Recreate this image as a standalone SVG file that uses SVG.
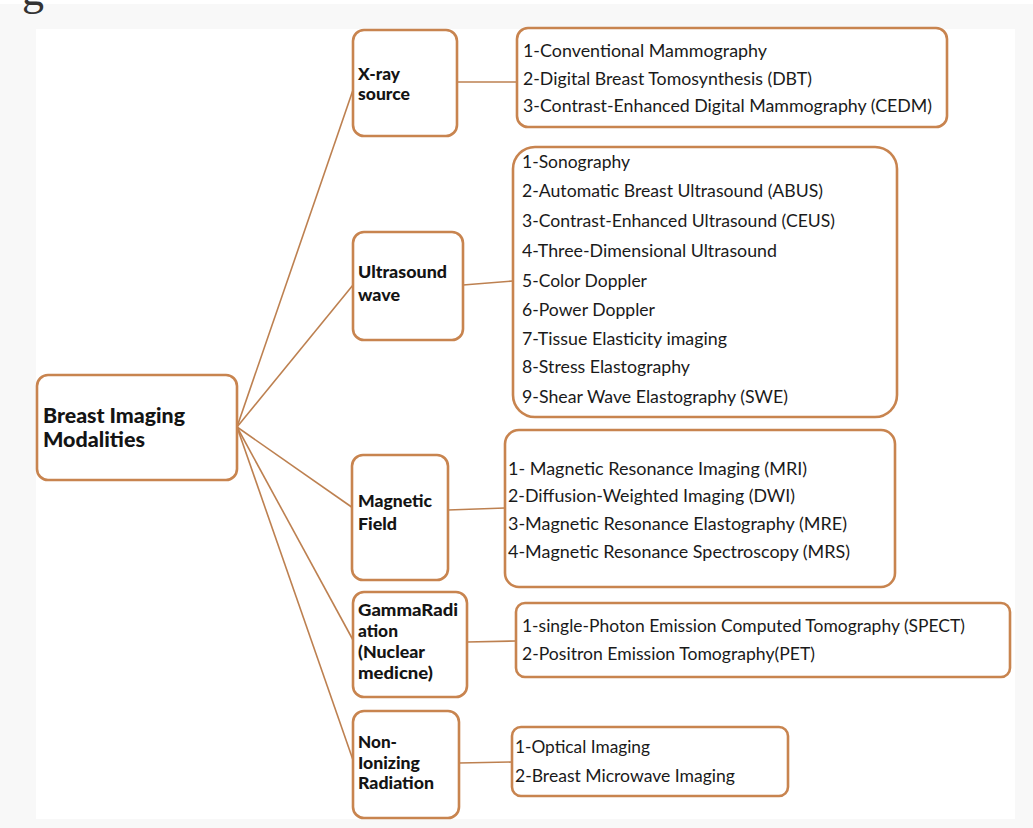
<svg xmlns="http://www.w3.org/2000/svg" width="1033" height="828" viewBox="0 0 1033 828">
<style>
  .box { fill: #ffffff; stroke: #c8844f; stroke-width: 2.6; }
  .conn { stroke: #bd8050; stroke-width: 1.6; fill: none; }
  .t { font-family: Lato, "Liberation Sans", sans-serif; font-size: 16.5px; fill: #1a1a1a; }
  .c { font-family: Lato, "Liberation Sans", sans-serif; font-size: 16px; font-weight: 900; fill: #141414; }
  .r { font-family: Lato, "Liberation Sans", sans-serif; font-size: 20px; font-weight: 900; fill: #141414; }
</style>
<rect x="0" y="0" width="1033" height="828" fill="#ffffff"/>
<rect x="0" y="4" width="1033" height="824" fill="#f8f8f8"/>
<rect x="36" y="29" width="979" height="790" fill="#ffffff"/>
<text x="22" y="5" font-family="'Liberation Serif', serif" font-size="44" fill="#333333">g</text>

<g id="connectors">
  <line class="conn" x1="237" y1="427" x2="353" y2="90"/>
  <line class="conn" x1="237" y1="427" x2="353" y2="285"/>
  <line class="conn" x1="237" y1="427" x2="353" y2="508"/>
  <line class="conn" x1="237" y1="427" x2="353" y2="640"/>
  <line class="conn" x1="237" y1="427" x2="353" y2="760"/>
  <line class="conn" x1="457" y1="82" x2="517" y2="82"/>
  <line class="conn" x1="463" y1="285" x2="513" y2="281"/>
  <line class="conn" x1="448" y1="510" x2="505" y2="508"/>
  <line class="conn" x1="467" y1="642" x2="516" y2="641"/>
  <line class="conn" x1="459" y1="763" x2="512" y2="762"/>
</g>

<g id="root">
  <rect class="box" x="37" y="375" width="200" height="105" rx="11"/>
  <text class="r" x="43" y="423" textLength="142" lengthAdjust="spacingAndGlyphs">Breast Imaging</text>
  <text class="r" x="43" y="447" textLength="102" lengthAdjust="spacingAndGlyphs">Modalities</text>
</g>

<g id="xray">
  <rect class="box" x="353" y="30" width="104" height="106" rx="11"/>
  <text class="c" x="358" y="80" textLength="42" lengthAdjust="spacingAndGlyphs">X-ray</text>
  <text class="c" x="358" y="100" textLength="52" lengthAdjust="spacingAndGlyphs">source</text>
</g>

<g id="ultrasound">
  <rect class="box" x="353" y="232" width="110" height="108" rx="11"/>
  <text class="c" x="358" y="278" textLength="89" lengthAdjust="spacingAndGlyphs">Ultrasound</text>
  <text class="c" x="358" y="301" textLength="42" lengthAdjust="spacingAndGlyphs">wave</text>
</g>

<g id="magnetic">
  <rect class="box" x="352" y="455" width="96" height="125" rx="11"/>
  <text class="c" x="358" y="507" textLength="74" lengthAdjust="spacingAndGlyphs">Magnetic</text>
  <text class="c" x="358" y="530" textLength="39" lengthAdjust="spacingAndGlyphs">Field</text>
</g>

<g id="gamma">
  <rect class="box" x="353" y="592" width="114" height="105" rx="11"/>
  <text class="c" x="358" y="616" textLength="100" lengthAdjust="spacingAndGlyphs">GammaRadi</text>
  <text class="c" x="358" y="637" textLength="40" lengthAdjust="spacingAndGlyphs">ation</text>
  <text class="c" x="358" y="658" textLength="67" lengthAdjust="spacingAndGlyphs">(Nuclear</text>
  <text class="c" x="358" y="679" textLength="75" lengthAdjust="spacingAndGlyphs">medicne)</text>
</g>

<g id="nonionizing">
  <rect class="box" x="353" y="711" width="106" height="107" rx="11"/>
  <text class="c" x="358" y="748" textLength="39" lengthAdjust="spacingAndGlyphs">Non-</text>
  <text class="c" x="358" y="769" textLength="62" lengthAdjust="spacingAndGlyphs">Ionizing</text>
  <text class="c" x="358" y="789" textLength="76" lengthAdjust="spacingAndGlyphs">Radiation</text>
</g>

<g id="xray-list">
  <rect class="box" x="517" y="28" width="430" height="99" rx="11"/>
  <text class="t" x="523" y="57" textLength="244" lengthAdjust="spacingAndGlyphs">1-Conventional Mammography</text>
  <text class="t" x="523" y="85" textLength="289" lengthAdjust="spacingAndGlyphs">2-Digital Breast Tomosynthesis (DBT)</text>
  <text class="t" x="523" y="112" textLength="409" lengthAdjust="spacingAndGlyphs">3-Contrast-Enhanced Digital Mammography (CEDM)</text>
</g>

<g id="ultrasound-list">
  <rect class="box" x="513" y="147" width="384" height="270" rx="22"/>
  <text class="t" x="522" y="168" textLength="108" lengthAdjust="spacingAndGlyphs">1-Sonography</text>
  <text class="t" x="522" y="197" textLength="301" lengthAdjust="spacingAndGlyphs">2-Automatic Breast Ultrasound (ABUS)</text>
  <text class="t" x="522" y="227" textLength="313" lengthAdjust="spacingAndGlyphs">3-Contrast-Enhanced Ultrasound (CEUS)</text>
  <text class="t" x="522" y="257" textLength="255" lengthAdjust="spacingAndGlyphs">4-Three-Dimensional Ultrasound</text>
  <text class="t" x="522" y="287" textLength="125" lengthAdjust="spacingAndGlyphs">5-Color Doppler</text>
  <text class="t" x="522" y="316" textLength="133" lengthAdjust="spacingAndGlyphs">6-Power Doppler</text>
  <text class="t" x="522" y="345" textLength="205" lengthAdjust="spacingAndGlyphs">7-Tissue Elasticity imaging</text>
  <text class="t" x="522" y="373" textLength="168" lengthAdjust="spacingAndGlyphs">8-Stress Elastography</text>
  <text class="t" x="522" y="403" textLength="266" lengthAdjust="spacingAndGlyphs">9-Shear Wave Elastography (SWE)</text>
</g>

<g id="magnetic-list">
  <rect class="box" x="505" y="430" width="390" height="157" rx="14"/>
  <text class="t" x="508" y="475" textLength="299" lengthAdjust="spacingAndGlyphs">1- Magnetic Resonance Imaging (MRI)</text>
  <text class="t" x="508" y="502" textLength="287" lengthAdjust="spacingAndGlyphs">2-Diffusion-Weighted Imaging (DWI)</text>
  <text class="t" x="508" y="530" textLength="339" lengthAdjust="spacingAndGlyphs">3-Magnetic Resonance Elastography (MRE)</text>
  <text class="t" x="508" y="558" textLength="342" lengthAdjust="spacingAndGlyphs">4-Magnetic Resonance Spectroscopy (MRS)</text>
</g>

<g id="gamma-list">
  <rect class="box" x="516" y="603" width="494" height="74" rx="9"/>
  <text class="t" x="522" y="632" textLength="443" lengthAdjust="spacingAndGlyphs">1-single-Photon Emission Computed Tomography (SPECT)</text>
  <text class="t" x="522" y="660" textLength="293" lengthAdjust="spacingAndGlyphs">2-Positron Emission Tomography(PET)</text>
</g>

<g id="nonionizing-list">
  <rect class="box" x="512" y="727" width="276" height="69" rx="9"/>
  <text class="t" x="515" y="753" textLength="135" lengthAdjust="spacingAndGlyphs">1-Optical Imaging</text>
  <text class="t" x="515" y="782" textLength="220" lengthAdjust="spacingAndGlyphs">2-Breast Microwave Imaging</text>
</g>
</svg>
